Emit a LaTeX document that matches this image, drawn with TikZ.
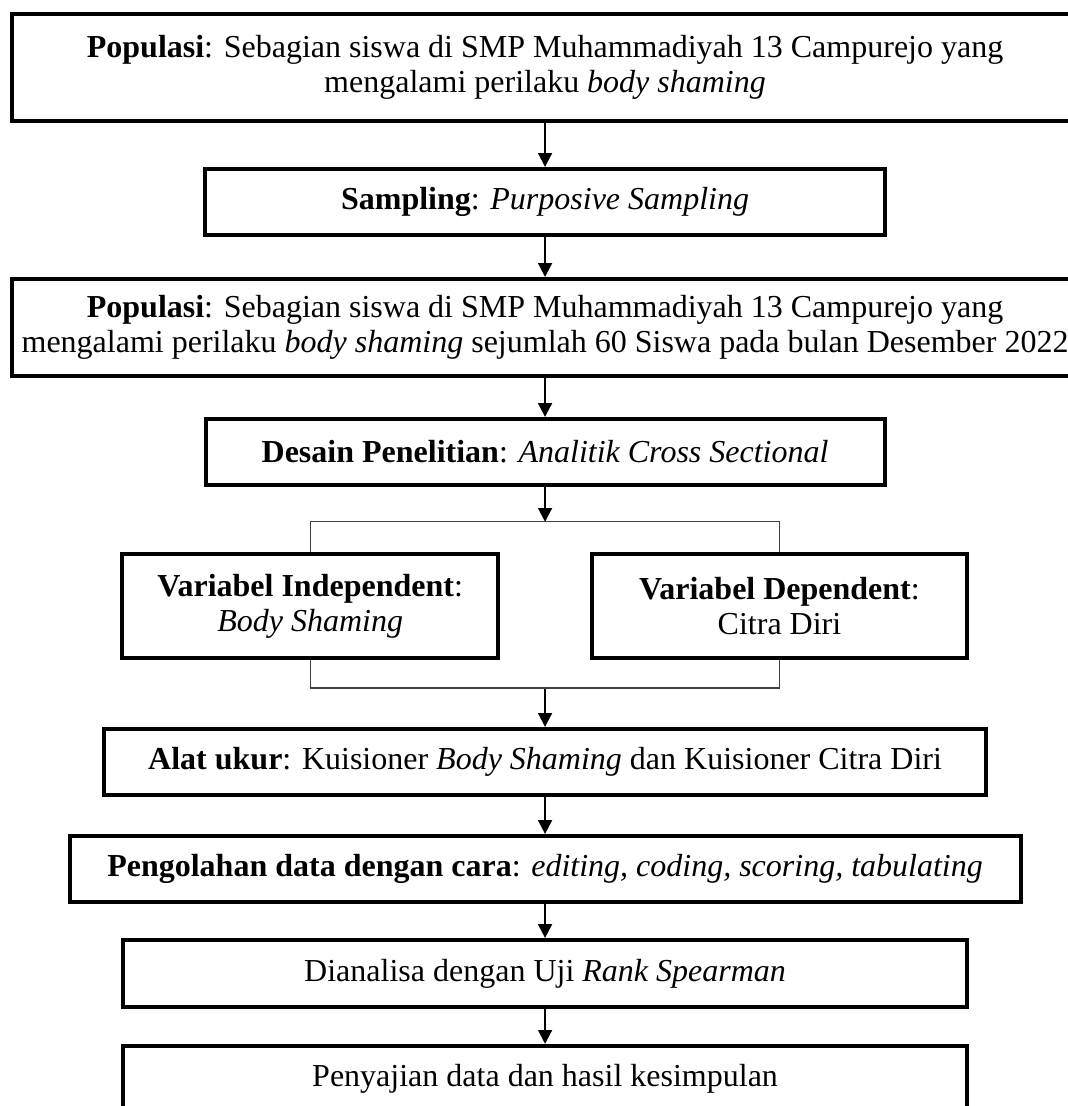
\documentclass[tikz,border=0pt]{standalone}
\usepackage{fontspec}
\setmainfont{Liberation Serif}
\usetikzlibrary{positioning,arrows.meta}

\tikzset{
	box/.style={draw, line width=1.5pt, align=center, inner sep=2pt},
	link/.style={line width=0.4pt, black!75}
}

\begin{document}
\begin{tikzpicture}[
		> = {Triangle[length=5.2pt,width=5.2pt]}, % arrow head style
		node distance = 14pt, % distance between boxes
		font=\fontsize{12}{13.1}\selectfont
		]
		\useasboundingbox (0,0) rectangle (400.5pt,-414.75pt);
		
		\node[box, minimum width=399.75pt, minimum height=40.1pt] (pop1) at (204.4pt,-25.3pt) {\textbf{Populasi}: Sebagian siswa di SMP Muhammadiyah 13 Campurejo yang\\ mengalami perilaku \textit{body shaming}};
		\node[box, minimum width=255pt, minimum height=24.75pt] (samp) [below=16.5pt of pop1] {\textbf{Sampling}: \textit{Purposive Sampling}};
		\node[box, minimum width=399.75pt, minimum height=36.4pt] (pop2) [below=15pt of samp] {\textbf{Populasi}: Sebagian siswa di SMP Muhammadiyah 13 Campurejo yang\\ mengalami perilaku \textit{body shaming} sejumlah 60 Siswa pada bulan Desember 2022};
		\node[box, minimum width=254.6pt, minimum height=24.75pt] (desain) [below=14.6pt of pop2] {\textbf{Desain Penelitian}: \textit{Analitik Cross Sectional}};
		\coordinate[below=13.1pt of desain] (jt);
		\node[box, minimum width=141pt, minimum height=39pt] (indep) [below=24.4pt of desain, xshift=-88.1pt] {\textbf{Variabel Independent}:\\ \textit{Body Shaming}};
		\node[box, minimum width=140.6pt, minimum height=39pt] (dep) [below=24.4pt of desain, xshift=87.9pt] {\textbf{Variabel Dependent}:\\ Citra Diri};
		\coordinate[below=10.5pt of indep] (jl);
		\coordinate (jm) at (jl -| desain);
		\node[box, minimum width=331pt, minimum height=24.75pt] (alat) [below=14.6pt of jm] {\textbf{Alat ukur}: Kuisioner \textit{Body Shaming} dan Kuisioner Citra Diri};
		\node[box, minimum width=356.6pt, minimum height=24.75pt] (olah) [below=13.9pt of alat] {\textbf{Pengolahan data dengan cara}: \textit{editing, coding, scoring, tabulating}};
		\node[box, minimum width=316.5pt, minimum height=25.1pt] (uji) [below=12.75pt of olah] {Dianalisa dengan Uji \textit{Rank Spearman}};
		\node[box, minimum width=316.5pt, minimum height=24.75pt] (saji) [below=13.1pt of uji] {Penyajian data dan hasil kesimpulan};
		
		\path[->, line width=0.75pt]
		(pop1) 	edge (samp)
		(samp) 	edge (pop2)
		(pop2) 	edge (desain)
		(desain) edge (jt)
		(jm) 	edge (alat)
		(alat) 	edge (olah)
		(olah) 	edge (uji)
		(uji) 	edge (saji);
		
		\draw[link] (indep.north) |- (jt) -| (dep.north);
		\draw[link] (indep.south) |- (jm) -| (dep.south);
		
	\end{tikzpicture}
\end{document}
